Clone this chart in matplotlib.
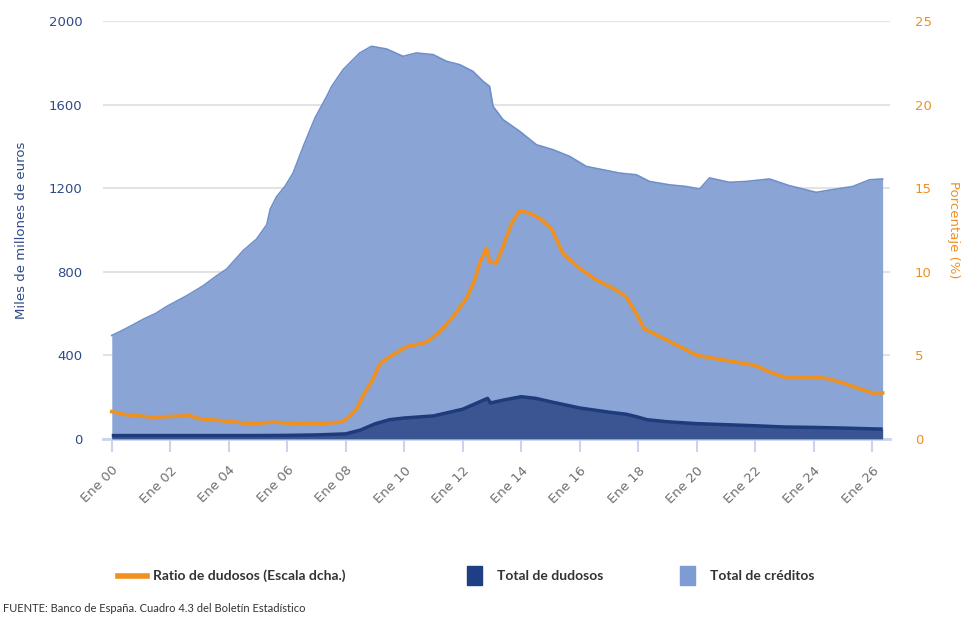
import numpy as np
import matplotlib
matplotlib.use('Agg')
import matplotlib.pyplot as plt
from matplotlib.lines import Line2D
from matplotlib.patches import Rectangle

# years since Jan 2000 (fractional) and values
credit_t = [0.0, 0.3, 0.62, 1.08, 1.5, 1.88, 2.56, 3.13, 3.59, 3.93, 4.5, 4.95, 5.3, 5.42,
            5.64, 5.92, 6.2, 6.55, 6.95, 7.35, 7.52, 7.91, 8.48, 8.88, 9.4, 9.96, 10.42,
            10.99, 11.45, 11.9, 12.35, 12.7, 12.92, 13.04, 13.38, 13.95, 14.52, 15.09,
            15.66, 16.23, 16.8, 17.37, 17.94, 18.39, 19.07, 19.64, 20.1, 20.44, 21.12,
            21.69, 22.49, 23.17, 24.09, 24.65, 25.34, 25.91, 26.36]
credit_v = [495, 515, 538, 573, 600, 634, 685, 733, 781, 813, 902, 956, 1025, 1100,
            1160, 1208, 1272, 1400, 1536, 1639, 1687, 1767, 1847, 1879, 1866, 1831, 1847,
            1839, 1807, 1791, 1759, 1711, 1687, 1591, 1528, 1472, 1408, 1384,
            1352, 1304, 1288, 1272, 1264, 1232, 1216, 1208, 1196, 1249, 1228,
            1232, 1244, 1212, 1180, 1193, 1208, 1240, 1244]

doubt_t = [0.0, 1.0, 2.0, 3.0, 4.0, 5.0, 6.0, 7.0, 8.0, 8.5, 9.0, 9.5, 10.0, 11.0, 12.0,
           12.85, 12.95, 13.4, 14.0, 14.5, 15.0, 16.0, 17.0, 17.6, 18.0, 18.3, 19.0, 20.0,
           21.0, 22.0, 23.0, 24.0, 25.0, 26.0, 26.36]
doubt_v = [16, 16, 16, 16, 16, 16, 17, 19, 24, 42, 72, 92, 100, 110, 142,
           194, 172, 186, 202, 194, 178, 148, 128, 118, 104, 92, 82, 73,
           68, 63, 57, 55, 52, 48, 47]

ratio_t = [0.0, 0.51, 1.42, 2.67, 3.02, 4.15, 4.72, 5.52, 6.43, 7.35, 7.8, 8.03, 8.37, 8.6,
           8.94, 9.17, 9.51, 10.08, 10.65, 10.87, 11.22, 11.67, 12.13, 12.41, 12.58, 12.81,
           12.92, 13.15, 13.38, 13.67, 13.95, 14.29, 14.63, 15.03, 15.43, 16.0, 16.57,
           17.14, 17.59, 18.0, 18.2, 19.0, 20.0, 21.0, 22.0, 22.5, 23.0, 24.0, 24.5,
           25.0, 26.0, 26.36]
ratio_v = [1.63, 1.44, 1.30, 1.39, 1.20, 1.03, 0.90, 1.0, 0.90, 0.94, 1.0, 1.18, 1.78, 2.6,
           3.6, 4.5, 4.92, 5.52, 5.72, 5.92, 6.42, 7.31, 8.41, 9.51, 10.51, 11.41,
           10.6, 10.51, 11.5, 12.9, 13.65, 13.5, 13.2, 12.6, 11.1, 10.2, 9.51,
           9.01, 8.51, 7.3, 6.6, 5.9, 5.0, 4.7, 4.4, 4.0, 3.7, 3.7, 3.6,
           3.35, 2.75, 2.75]

tick_years = list(range(0, 27, 2))
tick_labels = ['Ene %02d' % y for y in tick_years]

c_light = '#8aa5d5'
c_light_edge = '#6f8fcb'
c_dark = '#3b5593'
c_dark_edge = '#1f3b7c'
c_orange = '#f0901e'
c_navy = '#2f4a88'
narrow = ['Liberation Sans Narrow', 'Lato', 'DejaVu Sans']

fig = plt.figure(figsize=(9.67, 6.27), dpi=100)
ax = fig.add_axes([0.1065, 0.300, 0.8135, 0.6665])
ax2 = ax.twinx()

ax.fill_between(credit_t, credit_v, color=c_light, lw=0, zorder=2)
ax.plot(credit_t, credit_v, color=c_light_edge, lw=1.2, zorder=3)
ax.fill_between(doubt_t, doubt_v, color=c_dark, lw=0, zorder=4)
ax.plot(doubt_t, doubt_v, color=c_dark_edge, lw=2.5, zorder=5, solid_capstyle='butt')
ax2.plot(ratio_t, ratio_v, color=c_orange, lw=2.6, zorder=6)

ax.set_xlim(-0.3, 26.6)
ax.set_ylim(0, 2000)
ax2.set_ylim(0, 25)
ax.set_yticks([0, 400, 800, 1200, 1600, 2000])
ax2.set_yticks([0, 5, 10, 15, 20, 25])
ax.set_xticks(tick_years)
ax.set_xticklabels(tick_labels, rotation=45, ha='right', rotation_mode='anchor',
                   color='#707070', fontsize=9.5)

ax.grid(axis='y', color='#e3e3e3', lw=1.5, zorder=0)
ax.set_axisbelow(True)
for a in (ax, ax2):
    for s in ('left', 'right', 'top'):
        a.spines[s].set_visible(False)
ax2.spines['bottom'].set_visible(False)
ax.spines['bottom'].set_color('#c9d5ec')
ax.spines['bottom'].set_linewidth(2)

ax.tick_params(axis='x', length=9, width=1.5, color='#c9d5ec', pad=9)
ax.tick_params(axis='y', length=0, pad=15, labelcolor=c_navy, labelsize=9.5)
ax2.tick_params(axis='y', length=0, pad=18, labelcolor=c_orange, labelsize=9.5)

ax.set_ylabel('Miles de millones de euros', color=c_navy, fontsize=9.5)
ax2.set_ylabel('Porcentaje (%)', color=c_orange, fontsize=9.5, rotation=-90)
ax.yaxis.set_label_coords(-0.095, 0.5)
ax2.yaxis.set_label_coords(1.090, 0.5)

# legend drawn in figure pixels
W, H = 967.0, 627.0
ly = 1 - 576 / H
fig.add_artist(Line2D([118 / W, 147 / W], [ly, ly], color=c_orange, lw=4))
fig.text(153 / W, ly, 'Ratio de dudosos (Escala dcha.)', fontsize=10, fontweight='bold',
         family=narrow, color='#333333', va='center')
fig.add_artist(Rectangle((467 / W, ly - 9 / H), 15 / W, 19 / H, color='#1f3f85'))
fig.text(497 / W, ly, 'Total de dudosos', fontsize=10, fontweight='bold',
         family=narrow, color='#333333', va='center')
fig.add_artist(Rectangle((680 / W, ly - 9 / H), 15 / W, 19 / H, color='#7f9bd3'))
fig.text(710 / W, ly, 'Total de créditos', fontsize=10, fontweight='bold',
         family=narrow, color='#333333', va='center')

fig.text(3 / W, 1 - 608 / H, 'FUENTE: Banco de España. Cuadro 4.3 del Boletín Estadístico',
         fontsize=8, family=narrow, color='#333333', va='center')

fig.savefig('out.png', dpi=100, facecolor='white')
